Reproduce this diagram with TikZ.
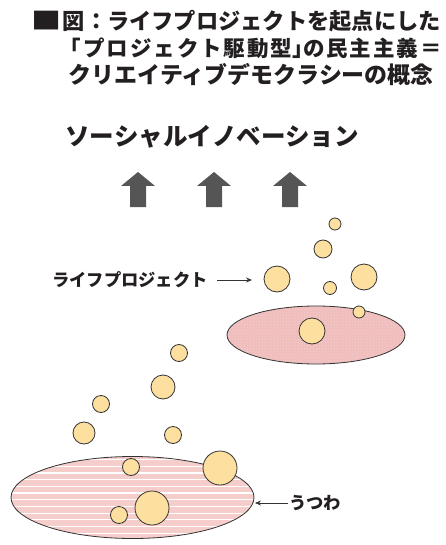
\documentclass[tikz,border=0pt]{standalone}
\usepackage{fontspec}
\newfontfamily\jp{Noto Sans CJK JP}
\usetikzlibrary{arrows.meta,shapes.geometric,patterns}
\definecolor{bub}{HTML}{FDDFA0}
\definecolor{edge}{HTML}{333333}
\definecolor{pinkA}{HTML}{EFBDBC}
\definecolor{pinkAl}{HTML}{F5D0CF}
\definecolor{pinkB}{HTML}{F5CDCA}
\definecolor{arr}{HTML}{555555}
\definecolor{ink}{HTML}{231F20}
\tikzset{
  bubble/.style={circle,draw=edge,line width=0.8pt,fill=bub,inner sep=0pt,minimum size=#1},
  title/.style={font=\jp\bfseries\fontsize{22}{24}\selectfont,text=ink,inner sep=0pt},
  lbl/.style={font=\jp\bfseries\fontsize{17.3}{19}\selectfont,text=ink,inner sep=0pt},
  dish/.style={draw=edge,line width=0.8pt},
  thinarrow/.style={draw=edge,line width=0.7pt,-{Stealth[length=6pt,width=5pt]}},
  uparrow/.style={fill=arr}
}
\begin{document}
\begin{tikzpicture}[x=1pt,y=-1pt]
\useasboundingbox (0,0) rectangle (445,545);
% title
\node[title] (sq) at (46.5,20.5) {\scalebox{1.37}[1.07]{■}};
\node[title,anchor=east] (t1) at (441,21) {\resizebox{378pt}{!}{図：ライフプロジェクトを起点にした}};
\node[title,anchor=east] (t2) at (442,48) {\resizebox{382pt}{!}{\addfontfeature{LetterSpace=9}「プロジェクト駆動型\makebox[0.5em][l]{」}の民主主義＝}};
\node[title,anchor=east] (t3) at (434,75) {\resizebox{365pt}{!}{\fontsize{22.5}{24}\selectfont クリエイティブデモクラシーの概念}};
\node[font=\jp\bfseries\fontsize{24.5}{28}\selectfont,text=ink,inner sep=0pt] (si) at (212,137) {ソーシャルイノベーション};
% up arrows
\foreach \cx in {138,214,290}{
  \fill[uparrow] (\cx-8,207) -- (\cx-8,186) -- (\cx-17,186) -- (\cx,172) -- (\cx+17,186) -- (\cx+8,186) -- (\cx+8,207) -- cycle;
}
% top dish
\node[ellipse,minimum width=178pt,minimum height=58pt] (dishT) at (316,335) {};
\fill[pinkA] (316,335) ellipse [x radius=89, y radius=29];
\fill[pattern=crosshatch dots,pattern color=pinkAl] (316,335) ellipse [x radius=89, y radius=29];
\draw[dish] (316,335) ellipse [x radius=89, y radius=29];
% bottom dish with stripes
\node[ellipse,minimum width=243pt,minimum height=82pt] (dishB) at (132.5,497.5) {};
\begin{scope}
\clip (132.5,497.5) ellipse [x radius=121.5, y radius=41];
\fill[pinkB] (0,450) rectangle (260,545);
\foreach \yy in {459.5,466.2,...,540}{\draw[white,line width=1.2pt] (0,\yy) -- (260,\yy);}
\end{scope}
\draw[dish] (132.5,497.5) ellipse [x radius=121.5, y radius=41];
% top bubbles
\node[bubble=12pt] (p1) at (335,224) {};
\node[bubble=18pt] (p2) at (323,249) {};
\node[bubble=26pt] (p3) at (277,279) {};
\node[bubble=26pt] (p4) at (364,277) {};
\node[bubble=13pt] (p5) at (330,288) {};
\node[bubble=12pt] (p6) at (359,312) {};
\node[bubble=26pt] (p7) at (312,331) {};
% bottom bubbles
\node[bubble=17pt] (q1) at (179,353) {};
\node[bubble=24pt] (q2) at (163,387) {};
\node[bubble=17pt] (q3) at (101,404) {};
\node[bubble=22pt] (q4) at (84,433) {};
\node[bubble=17pt] (q5) at (173,435) {};
\node[bubble=17pt] (q6) at (131,467) {};
\node[bubble=34pt] (q7) at (220,468) {};
\node[bubble=34pt] (q8) at (152,508) {};
\node[bubble=17pt] (q9) at (119,515) {};
% labels
\node[lbl,anchor=east] (lp) at (208,280) {ライフプロジェクト};
\coordinate (lpend) at (252,280);
\draw[thinarrow] (217,280) -- (lpend);
\node[lbl,anchor=west] (uw) at (289,503) {うつわ};
\coordinate (uwend) at (255,503);
\draw[thinarrow] ([xshift=-1pt]uw.west) -- (uwend);
\end{tikzpicture}
\end{document}
